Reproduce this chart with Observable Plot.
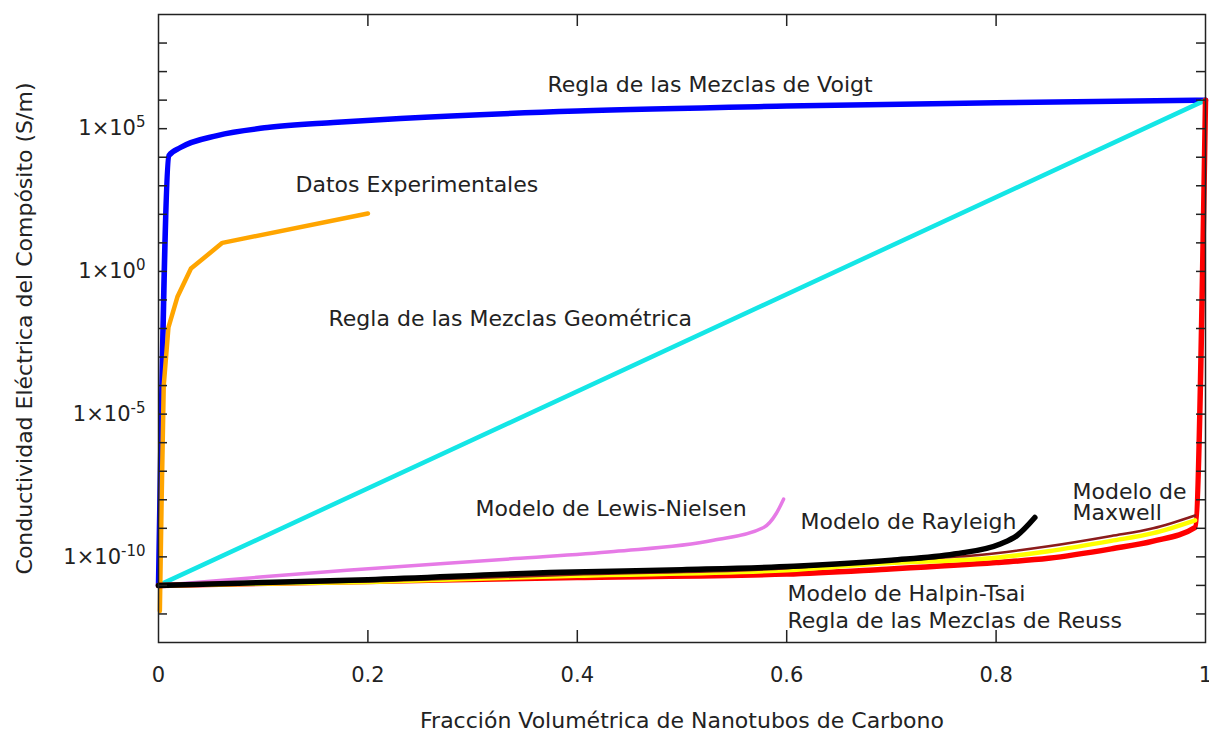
<!DOCTYPE html>
<html>
<head>
<meta charset="utf-8">
<script src="https://cdn.jsdelivr.net/npm/d3@7"></script>
<script src="https://cdn.jsdelivr.net/npm/@observablehq/plot@0.6"></script>
<style>
  body { margin: 0; background: #fff; }
  svg { display: block; }
</style>
</head>
<body>
<div id="chart"></div>
<script>
// ---- data ----
const voigtX = [0, 0.01, 0.021, 0.056, 0.104, 0.167, 0.231, 0.4, 0.6, 0.709, 0.8, 1];
const voigtY = [1e-11, 1.15e4, 2.19e4, 5.75e4, 1.10e5, 1.66e5, 2.29e5, 4.17e5, 6.17e5, 7.24e5, 8.13e5, 1e6];

const geomX = [0, 1];
const geomY = [1e-11, 1e6];

const expX = [0.0013, 0.003, 0.005, 0.0095, 0.018, 0.031, 0.061, 0.2];
const expY = [1.26e-12, 1e-8, 1e-4, 1.1e-2, 0.126, 1.26, 10, 107];

const lewisX = [0, 0.1, 0.18, 0.34, 0.435, 0.53, 0.578, 0.59, 0.597];
const lewisY = [1e-11, 2.0e-11, 3.39e-11, 8.7e-11, 1.55e-10, 3.8e-10, 1.07e-9, 3.3e-9, 1.05e-8];

const rayleighX = [0, 0.2, 0.384, 0.5, 0.607, 0.7, 0.76, 0.804, 0.82, 0.837];
const rayleighY = [1e-11, 1.58e-11, 2.88e-11, 3.55e-11, 4.68e-11, 7.59e-11, 1.26e-10, 2.82e-10, 5.62e-10, 2.4e-9];

const maxwellX = [0, 0.2, 0.4, 0.6, 0.69, 0.8, 0.85, 0.91, 0.95, 0.99];
const maxwellY = [1e-11, 1.38e-11, 2.4e-11, 3.98e-11, 6.92e-11, 1.35e-10, 2.34e-10, 5.37e-10, 1e-9, 2.82e-9];

const halpinX = [0, 0.2, 0.4, 0.6, 0.69, 0.8, 0.85, 0.91, 0.95, 0.99];
const halpinY = [1e-11, 1.32e-11, 2.19e-11, 3.39e-11, 5.89e-11, 9.33e-11, 1.58e-10, 3.63e-10, 6.76e-10, 1.91e-9];

const reussX = [0, 0.2, 0.4, 0.6, 0.69, 0.8, 0.85, 0.91, 0.95, 0.99, 1];
const reussY = [1e-11, 1.38e-11, 1.91e-11, 2.51e-11, 3.63e-11, 6.31e-11, 8.91e-11, 1.91e-10, 3.55e-10, 1.07e-9, 1e6];

const xTicks = [0, 0.2, 0.4, 0.6, 0.8, 1];
const yLabelTicks = [1e5, 1, 1e-5, 1e-10];
const yMinorTicks = [1e-12, 1e-11, 1e-10, 1e-9, 1e-8, 1e-7, 1e-6, 1e-5, 1e-4, 1e-3, 1e-2, 1e-1, 1, 1e1, 1e2, 1e3, 1e4, 1e5, 1e6, 1e7, 1e8];

const labelText = [
  "Regla de las Mezclas de Voigt",
  "Datos Experimentales",
  "Regla de las Mezclas Geométrica",
  "Modelo de Lewis-Nielsen",
  "Modelo de Rayleigh",
  "Modelo de",
  "Maxwell",
  "Modelo de Halpin-Tsai",
  "Regla de las Mezclas de Reuss"
];
const labelX = [0.3715, 0.1309, 0.1624, 0.3028, 0.6132, 0.873, 0.873, 0.6008, 0.6008];
const labelY = [2.0e6, 6.3e2, 1.27e-2, 2.6e-9, 9.1e-10, 1.1e-8, 1.9e-9, 2.96e-12, 3.35e-13];

const xTitle = "Fracción Volumétrica de Nanotubos de Carbono";
const yTitle = "Conductividad Eléctrica del Compósito (S/m)";

// ---- build ----
const W = 1209, H = 732;
const mL = 158, mR = 4, mT = 14, mB = 90;
const fw = W - mL - mR, fh = H - mT - mB;

const series = [
  {x: voigtX, y: voigtY, stroke: "#0000ff", sw: 5.5, curve: "monotone-x"},
  {x: geomX, y: geomY, stroke: "#14e6e6", sw: 4.5, curve: "linear"},
  {x: expX, y: expY, stroke: "#ffa500", sw: 4.5, curve: "linear"},
  {x: lewisX, y: lewisY, stroke: "#e67ae6", sw: 3.5, curve: "monotone-x"},
  {x: reussX, y: reussY, stroke: "#ff0000", sw: 5.5, curve: "monotone-x"},
  {x: halpinX, y: halpinY, stroke: "#ffff00", sw: 4.5, curve: "monotone-x"},
  {x: maxwellX, y: maxwellY, stroke: "#8b1c1c", sw: 2.5, curve: "monotone-x"},
  {x: rayleighX, y: rayleighY, stroke: "#000000", sw: 5.5, curve: "monotone-x"}
];

const marks = [];
for (const s of series) {
  const rows = s.x.map((x, i) => ({x, y: s.y[i]}));
  marks.push(Plot.line(rows, {x: "x", y: "y", stroke: s.stroke, strokeWidth: s.sw, curve: s.curve}));
}

const labels = labelText.map((t, i) => ({t, x: labelX[i], y: labelY[i]}));
marks.push(Plot.text(labels, {x: "x", y: "y", text: "t", textAnchor: "start", lineAnchor: "bottom", fontSize: 22, fill: "#222"}));

// inward ticks
marks.push(Plot.ruleY(yMinorTicks, {y: d => d, insetRight: fw - 9, stroke: "#222", strokeWidth: 1.5}));
marks.push(Plot.ruleY(yMinorTicks, {y: d => d, insetLeft: fw - 9, stroke: "#222", strokeWidth: 1.5}));
marks.push(Plot.ruleX(xTicks.slice(1, -1), {x: d => d, insetTop: fh - 12, stroke: "#222", strokeWidth: 1.5}));
marks.push(Plot.ruleX(xTicks.slice(1, -1), {x: d => d, insetBottom: fh - 12, stroke: "#222", strokeWidth: 1.5}));

marks.push(Plot.axisX({ticks: xTicks, tickSize: 0, tickPadding: 25, tickFormat: d => d3.format("~g")(d), fontSize: 21, label: null}));
marks.push(Plot.axisY({ticks: yLabelTicks, tickSize: 0, tickPadding: 13, tickFormat: d => "1×10^" + Math.round(Math.log10(d)), fontSize: 21, label: null}));

marks.push(Plot.text([xTitle], {text: d => d, frameAnchor: "bottom", dy: 85, lineAnchor: "bottom", fontSize: 22, fill: "#222"}));
marks.push(Plot.text([yTitle], {text: d => d, frameAnchor: "left", rotate: -90, dx: -134, lineAnchor: "middle", textAnchor: "middle", fontSize: 22, fill: "#222"}));

marks.push(Plot.frame({stroke: "#222", strokeWidth: 1.5}));

const chart = Plot.plot({
  width: W,
  height: H,
  marginLeft: mL,
  marginRight: mR,
  marginTop: mT,
  marginBottom: mB,
  style: {fontFamily: "'DejaVu Sans', Verdana, sans-serif", fontSize: "21px", color: "#222", background: "#fff"},
  x: {domain: [0, 1]},
  y: {type: "log", domain: [1e-13, 1e9]},
  marks
});

// superscript exponents in y tick labels
d3.select(chart).selectAll('g[aria-label="y-axis tick label"] text').each(function () {
  const parts = this.textContent.split("^");
  if (parts.length !== 2) return;
  this.textContent = parts[0];
  d3.select(this).append("tspan").attr("dy", -8).attr("font-size", 15).text(parts[1]);
});

document.getElementById("chart").appendChild(chart);
</script>
</body>
</html>
